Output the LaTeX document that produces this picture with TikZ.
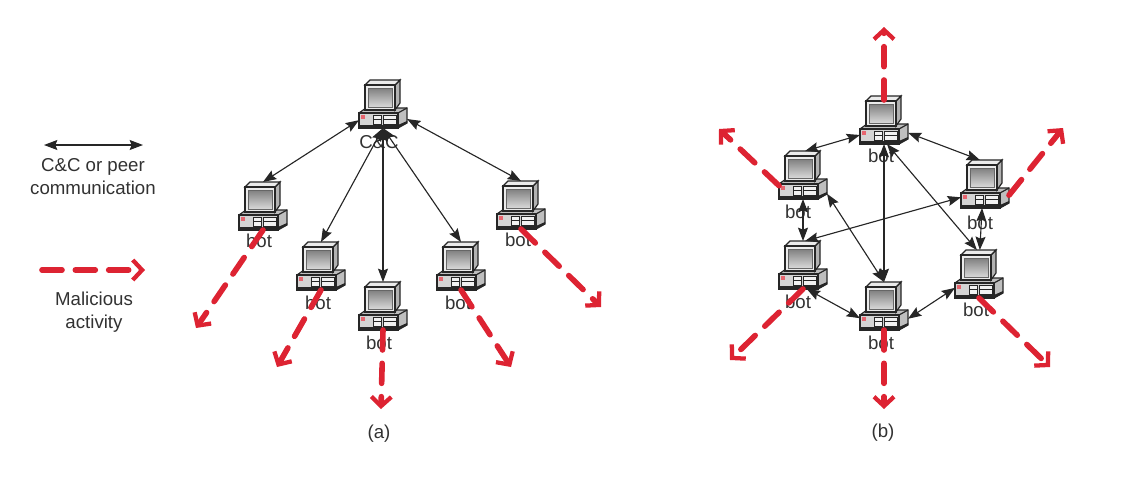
\documentclass[tikz,border=0pt]{standalone}
\usepackage{fontspec}
\setmainfont{Liberation Sans}
\usepackage{tikz}
\usetikzlibrary{arrows.meta}

\definecolor{botred}{RGB}{221,35,50}
\definecolor{textgray}{RGB}{50,50,50}

\tikzset{
    pcnode/.style={minimum size=36pt,inner sep=0pt,outer sep=0pt},
    lbl/.style={font=\fontsize{14}{17.3}\selectfont,text=textgray,align=center,inner sep=0pt},
    ctrl/.style={draw=black!85,line width=0.85pt,{Stealth[length=10pt,width=7.5pt,inset=1.5pt]}-{Stealth[length=10pt,width=7.5pt,inset=1.5pt]}},
    attack/.style={draw=botred,line width=4.2pt,line cap=round,dash pattern=on 15pt off 10pt,
        -{Straight Barb[length=7pt,width=15pt,line width=3.2pt]}},
    pics/computer/.style={code={
        \draw[black!85,line width=0.9pt,fill=black!25] (-24,9) -- (-17,4) -- (24,4) -- (24,19) -- (15,24) -- (-24,24) -- cycle;
        \draw[black!85,line width=0.9pt,fill=black!17] (-24,9) rectangle (15,24);
        \draw[black!85,line width=0.9pt] (15,9) -- (24,4);
        \fill[black!85] (-24,21) rectangle (15,24);
        \fill[black!85] (15,24) -- (24,19) -- (24,17) -- (15,21) -- cycle;
        \fill[botred!70] (-22,11) rectangle (-18,15);
        \draw[black!85,line width=0.6pt,fill=black!5] (-10,11) rectangle (-2,20);
        \draw[black!85,line width=0.6pt] (-10,15.5) -- (-2,15.5);
        \draw[black!85,line width=0.6pt,fill=black!5] (0,11) rectangle (13,20);
        \draw[black!85,line width=0.6pt] (0,15.5) -- (13,15.5);
        \draw[black!85,line width=0.9pt,fill=black!30] (12,-19) -- (17,-24) -- (17,-1) -- (12,6) -- cycle;
        \draw[black!85,line width=0.9pt,fill=black!8] (-18,-19) -- (-13,-24) -- (17,-24) -- (12,-19) -- cycle;
        \draw[black!85,line width=0.9pt,fill=black!8] (-18,-19) rectangle (12,6);
        \shade[draw=black!60,line width=0.4pt,top color=black!50,bottom color=black!15] (-15,-16) rectangle (9,3);
    }}
}

\begin{document}
\begin{tikzpicture}[x=0.75pt,y=-0.75pt]
        \useasboundingbox (0,0) rectangle (1122,479);

        % legend
        \coordinate (k1) at (44,145);
        \coordinate (k2) at (143,145);
        \coordinate (k3) at (42,270);
        \coordinate (k4) at (145,270);
        \node[lbl] (peer) at (93,177) {C\&C or peer\\communication};
        \node[lbl] (mal) at (94,312) {Malicious\\activity};

        % computers
        \begin{scope}[every node/.style={pcnode}]
            \node (cc) at (383,104) {};
            \node (a1) at (263,206) {};
            \node (a2) at (321,266) {};
            \node (a3) at (383,306) {};
            \node (a4) at (461,266) {};
            \node (a5) at (521,205) {};

            \node (b1) at (884,120) {};
            \node (b2) at (803,175) {};
            \node (b3) at (985,184) {};
            \node (b4) at (803,265) {};
            \node (b5) at (884,306) {};
            \node (b6) at (979,274) {};
        \end{scope}
        \foreach \n in {cc,a1,a2,a3,a4,a5,b1,b2,b3,b4,b5,b6}
            \pic at (\n) {computer};

        % labels
        \begin{scope}[every node/.style={lbl}]
            \node (lcc) at (379,142) {C\&C};
            \node (la1) at (259,241) {bot};
            \node (la2) at (318,303) {bot};
            \node (la3) at (379,343) {bot};
            \node (la4) at (458,303) {bot};
            \node (la5) at (518,240) {bot};

            \node (lb1) at (881,156) {bot};
            \node (lb2) at (798,212) {bot};
            \node (lb3) at (980,223) {bot};
            \node (lb4) at (798,302) {bot};
            \node (lb5) at (881,343) {bot};
            \node (lb6) at (976,310) {bot};

            \node (capa) at (379,434) {(a)};
            \node (capb) at (883,433) {(b)};
        \end{scope}

        % free ends of the red arrows
        \coordinate (ea1) at (196,328);
        \coordinate (ea2) at (277,367);
        \coordinate (ea3) at (381,409);
        \coordinate (ea4) at (511,367);
        \coordinate (ea5) at (601,307);
        \coordinate (eb1) at (884,27);
        \coordinate (eb2) at (719,129);
        \coordinate (eb3) at (1063,128);
        \coordinate (eb4) at (730,360);
        \coordinate (eb5) at (884,409);
        \coordinate (eb6) at (1050,367);

        \begin{scope}[every edge/.style={ctrl}]
            \path (k1) edge (k2);

            \path (cc.214) edge (a1.north);
            \path (cc.south) edge (a2.north);
            \path (cc.south) edge (a3.north);
            \path (cc.south) edge (a4.north);
            \path (cc.328) edge (a5.north);

            \path (b1.212) edge (b2.85);
            \path (b1.332) edge (b3.102);
            \path (b1.277) edge (b6.95);
            \path (b1.south) edge (b5.north);
            \path (b2.south) edge (b4.north);
            \path (b2.322) edge (b5.north);
            \path (b3.209) edge (b4.85);
            \path (b3.263) edge (b6.88);
            \path (b4.279) edge (b5.207);
            \path (b5.332) edge (b6.210);
        \end{scope}

        \begin{scope}[every edge/.style={attack}]
            \path (k3) edge (k4);

            \path (a1.south) edge (ea1);
            \path (a2.south) edge (ea2);
            \path (a3.south) edge (ea3);
            \path (a4.south) edge (ea4);
            \path (a5.south) edge (ea5);

            \path (b1.center) ++(0,-20) edge (eb1);
            \path (b2.204) edge (eb2);
            \path (b3.335) edge (eb3);
            \path (b4.south) edge (eb4);
            \path (b5.south) edge (eb5);
            \path (b6.south) edge (eb6);
        \end{scope}
    \end{tikzpicture}
\end{document}
